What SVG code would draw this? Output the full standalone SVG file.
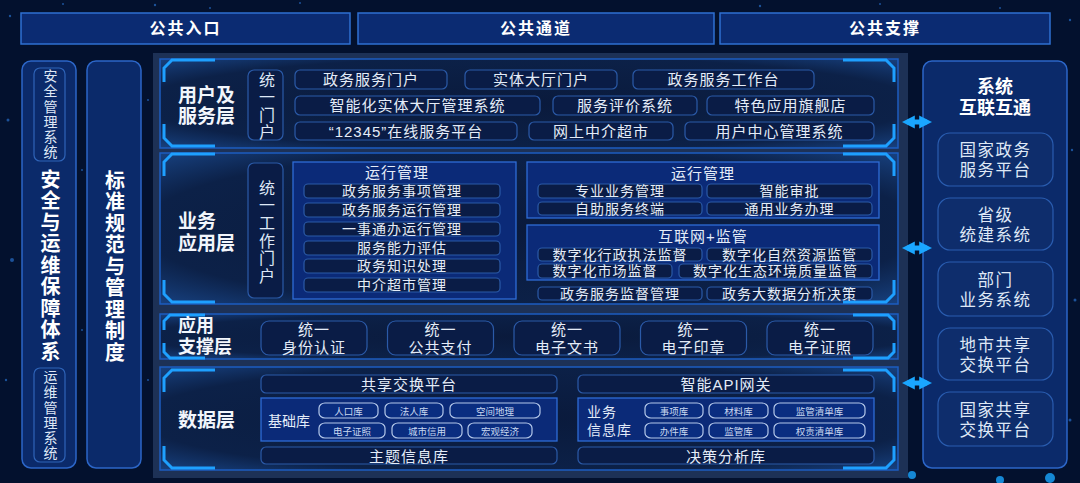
<svg xmlns="http://www.w3.org/2000/svg" width="1080" height="483" viewBox="0 0 1080 483">
<defs>
<style>
text{font-family:"Liberation Sans","Noto Sans CJK SC",sans-serif;fill:#e4ecf8;dominant-baseline:central;text-anchor:middle}
.hd{font-size:16px;font-weight:bold;fill:#ffffff;letter-spacing:2px}
.lay{font-size:19px;font-weight:bold;text-anchor:start;fill:#f2f6fc}
.it{font-size:15px;letter-spacing:1px}
.sm{font-size:14px;letter-spacing:1px}
.cy{font-size:9.5px;fill:#c9d8f0}
.vt{font-size:16px;fill:#dfe8f6;writing-mode:vertical-rl;letter-spacing:1.4px}
.rt{font-size:16.5px;fill:#dfe8f6;letter-spacing:1.5px}
.vs{font-size:14px;fill:#dfe8f6;writing-mode:vertical-rl;letter-spacing:1.2px}
.big{font-size:20px;font-weight:bold;fill:#ffffff;writing-mode:vertical-rl;letter-spacing:1.5px}
.bh{font-size:18px;font-weight:bold;fill:#ffffff}
.top{fill:#0b2b72;stroke:#2f70d2;stroke-width:1.5}
.col{fill:#0b2a6a;stroke:#2c66c8;stroke-width:1.5}
.inner{fill:none;stroke:#2f64b8;stroke-width:1.2}
.panel{fill:url(#pg);stroke:#1c5cc0;stroke-width:1.5}
.br{fill:none;stroke:#1ea0ff;stroke-width:3;stroke-linejoin:miter}
.box{fill:#0a1c46;stroke:#2b5aa8;stroke-width:1.2}
.mbox{fill:#0b2a78;stroke:#2e6cd6;stroke-width:1.3}
.cyl{fill:#0a2d80;stroke:#b4c8ea;stroke-width:1.2}
.rb{fill:#0e2d6c;stroke:#2a5db0;stroke-width:1.2}
.arr{stroke:#1aa6ff;stroke-width:5;fill:none}
</style>
<radialGradient id="pg" cx="0.5" cy="0.5" r="0.7">
<stop offset="0" stop-color="#0a1a3c"/>
<stop offset="0.75" stop-color="#0c2148"/>
<stop offset="1" stop-color="#17407e"/>
</radialGradient>
<marker id="ah" viewBox="0 0 10 10" refX="6" refY="5" markerWidth="2.6" markerHeight="2.8" orient="auto-start-reverse" markerUnits="strokeWidth">
<path d="M0,0 L10,5 L0,10 Z" fill="#1aa6ff"/>
</marker>
</defs>

<rect width="1080" height="483" fill="#03112e"/>
<g fill="#2e7de0" opacity="0.6">
<circle cx="10" cy="16" r="1.2"/><circle cx="63" cy="4" r="1"/><circle cx="155" cy="5" r="1.2"/><circle cx="210" cy="8" r="1"/><circle cx="300" cy="3" r="1"/><circle cx="760" cy="6" r="1.2"/><circle cx="880" cy="4" r="1"/><circle cx="1000" cy="8" r="1"/><circle cx="1070" cy="20" r="1.2"/><circle cx="8" cy="120" r="1.5"/><circle cx="12" cy="260" r="2"/><circle cx="6" cy="380" r="1.2"/><circle cx="1072" cy="150" r="1.2"/><circle cx="1075" cy="300" r="1.5"/><circle cx="1070" cy="420" r="1.5"/><circle cx="82" cy="170" r="1"/><circle cx="82" cy="330" r="1"/><circle cx="148" cy="100" r="1"/><circle cx="148" cy="380" r="1"/>
</g>
<g fill="#1aa6ff" opacity="0.8"><circle cx="912" cy="475" r="4"/><circle cx="1000" cy="480" r="4"/><circle cx="1050" cy="478" r="5"/></g>

<!-- top bars -->
<g id="pub-entry"><rect class="top" x="21" y="13" width="329" height="31"/><text class="hd" x="185.5" y="28.5">公共入口</text></g>
<g id="pub-channel"><rect class="top" x="358" y="13" width="356" height="31"/><text class="hd" x="536" y="28.5">公共通道</text></g>
<g id="pub-support"><rect class="top" x="720" y="13" width="330" height="31"/><text class="hd" x="885" y="28.5">公共支撑</text></g>

<!-- left columns -->
<g id="security">
<rect class="col" x="22" y="61" width="54" height="407" rx="9"/>
<rect class="inner" x="34" y="68" width="31" height="93" rx="6"/>
<text class="vs" x="49.5" y="114.5">安全管理系统</text>
<text class="big" x="49" y="266">安全与运维保障体系</text>
<rect class="inner" x="34" y="368" width="31" height="94" rx="6"/>
<text class="vs" x="49.5" y="415.5">运维管理系统</text>
</g>
<g id="standards">
<rect class="col" x="87" y="61" width="54" height="407" rx="9"/>
<text class="big" x="113.5" y="267">标准规范与管理制度</text>
</g>

<!-- main area -->
<rect x="153" y="53" width="755" height="425" fill="#1d3156"/>

<!-- layer 1 -->
<g id="layer-user">
<rect class="panel" x="160" y="59" width="738" height="89"/>
<path class="br" d="M164,82 L164,68 L172,60 L215,60"/><path class="br" d="M164,124 L164,138 L172,146 L215,146"/>
<path class="br" d="M894,82 L894,68 L886,60 L843,60"/><path class="br" d="M894,124 L894,138 L886,146 L843,146"/>
<text class="lay" x="178" y="95">用户及</text><text class="lay" x="178" y="116">服务层</text>
<rect class="box" x="248" y="70" width="35" height="70" rx="6"/>
<text class="vt" x="265.5" y="106.5">统一门户</text>
<rect class="box" x="295" y="70" width="152" height="19" rx="5"/><text class="it" x="371" y="79.5">政务服务门户</text>
<rect class="box" x="465" y="70" width="152" height="19" rx="5"/><text class="it" x="541" y="79.5">实体大厅门户</text>
<rect class="box" x="633" y="70" width="181" height="19" rx="5"/><text class="it" x="723.5" y="79.5">政务服务工作台</text>
<rect class="box" x="295" y="96" width="245" height="19" rx="5"/><text class="it" x="417.5" y="105.5">智能化实体大厅管理系统</text>
<rect class="box" x="553" y="96" width="144" height="19" rx="5"/><text class="it" x="625" y="105.5">服务评价系统</text>
<rect class="box" x="707" y="96" width="167" height="19" rx="5"/><text class="it" x="790.5" y="105.5">特色应用旗舰店</text>
<rect class="box" x="295" y="122" width="222" height="18" rx="5"/><text class="it" x="406" y="131">“12345”在线服务平台</text>
<rect class="box" x="529" y="122" width="144" height="18" rx="5"/><text class="it" x="601" y="131">网上中介超市</text>
<rect class="box" x="685" y="122" width="189" height="18" rx="5"/><text class="it" x="779.5" y="131">用户中心管理系统</text>
</g>

<!-- layer 2 -->
<g id="layer-biz">
<rect class="panel" x="160" y="153" width="738" height="151"/>
<path class="br" d="M164,176 L164,162 L172,154 L215,154"/><path class="br" d="M164,280 L164,294 L172,302 L215,302"/>
<path class="br" d="M894,176 L894,162 L886,154 L843,154"/><path class="br" d="M894,280 L894,294 L886,302 L843,302"/>
<text class="lay" x="178" y="221">业务</text><text class="lay" x="178" y="243">应用层</text>
<rect class="box" x="248" y="163" width="35" height="135" rx="6"/>
<text class="vt" x="265.5" y="232.5" style="letter-spacing:1.6px">统一工作门户</text>
<rect class="mbox" x="293" y="162" width="223" height="137"/>
<text class="it" x="397" y="172">运行管理</text>
<rect class="box" x="304" y="184" width="196" height="14" rx="4" fill="none"/><text class="sm" x="402" y="191">政务服务事项管理</text>
<rect class="box" x="304" y="203" width="196" height="14" rx="4" fill="none"/><text class="sm" x="402" y="210">政务服务运行管理</text>
<rect class="box" x="304" y="222" width="196" height="14" rx="4" fill="none"/><text class="sm" x="402" y="229">一事通办运行管理</text>
<rect class="box" x="304" y="241" width="196" height="14" rx="4" fill="none"/><text class="sm" x="402" y="248">服务能力评估</text>
<rect class="box" x="304" y="259" width="196" height="14" rx="4" fill="none"/><text class="sm" x="402" y="266">政务知识处理</text>
<rect class="box" x="304" y="278" width="196" height="14" rx="4" fill="none"/><text class="sm" x="402" y="285">中介超市管理</text>
<rect class="mbox" x="527" y="162" width="352" height="56"/>
<text class="it" x="703" y="173">运行管理</text>
<rect class="box" x="538" y="184" width="164" height="14" rx="4"/><text class="sm" x="620" y="191">专业业务管理</text>
<rect class="box" x="707" y="184" width="165" height="14" rx="4"/><text class="sm" x="789.5" y="191">智能审批</text>
<rect class="box" x="538" y="202" width="164" height="13" rx="4"/><text class="sm" x="620" y="208.5">自助服务终端</text>
<rect class="box" x="707" y="202" width="165" height="13" rx="4"/><text class="sm" x="789.5" y="208.5">通用业务办理</text>
<rect class="mbox" x="527" y="225" width="352" height="55"/>
<text class="it" x="703" y="236">互联网+监管</text>
<rect class="box" x="538" y="248" width="164" height="13" rx="4"/><text class="sm" x="620" y="254.5">数字化行政执法监督</text>
<rect class="box" x="707" y="248" width="165" height="13" rx="4"/><text class="sm" x="789.5" y="254.5">数字化自然资源监管</text>
<rect class="box" x="538" y="264" width="134" height="14" rx="4"/><text class="sm" x="605" y="271">数字化市场监督</text>
<rect class="box" x="679" y="264" width="193" height="14" rx="4"/><text class="sm" x="775.5" y="271">数字化生态环境质量监管</text>
<rect class="box" x="538" y="287" width="164" height="13" rx="4"/><text class="sm" x="620" y="293.5">政务服务监督管理</text>
<rect class="box" x="707" y="287" width="165" height="13" rx="4"/><text class="sm" x="789.5" y="293.5">政务大数据分析决策</text>
</g>

<!-- layer 3 -->
<g id="layer-support">
<rect class="panel" x="160" y="314" width="738" height="45"/>
<path class="br" d="M164,330 L164,321 L170,315 L205,315"/><path class="br" d="M164,343 L164,352 L170,358 L205,358"/>
<path class="br" d="M894,330 L894,321 L888,315 L853,315"/><path class="br" d="M894,343 L894,352 L888,358 L853,358"/>
<text class="lay" x="178" y="326" style="font-size:18px">应用</text><text class="lay" x="178" y="347" style="font-size:18px">支撑层</text>
<rect class="box" x="261" y="321" width="106" height="34" rx="8"/><text class="it" x="314" y="329.5">统一</text><text class="it" x="314" y="347">身份认证</text>
<rect class="box" x="387.5" y="321" width="106" height="34" rx="8"/><text class="it" x="440.5" y="329.5">统一</text><text class="it" x="440.5" y="347">公共支付</text>
<rect class="box" x="514" y="321" width="106" height="34" rx="8"/><text class="it" x="567" y="329.5">统一</text><text class="it" x="567" y="347">电子文书</text>
<rect class="box" x="640.5" y="321" width="106" height="34" rx="8"/><text class="it" x="693.5" y="329.5">统一</text><text class="it" x="693.5" y="347">电子印章</text>
<rect class="box" x="767" y="321" width="106" height="34" rx="8"/><text class="it" x="820" y="329.5">统一</text><text class="it" x="820" y="347">电子证照</text>
</g>

<!-- layer 4 -->
<g id="layer-data">
<rect class="panel" x="160" y="367" width="738" height="103"/>
<path class="br" d="M164,392 L164,378 L172,370 L215,370"/><path class="br" d="M164,446 L164,460 L172,468 L215,468"/>
<path class="br" d="M894,392 L894,378 L886,370 L843,370"/><path class="br" d="M894,446 L894,460 L886,468 L843,468"/>
<text class="lay" x="178" y="420">数据层</text>
<rect class="box" x="261" y="375" width="296" height="18" rx="5"/><text class="it" x="409" y="384">共享交换平台</text>
<rect class="mbox" x="261" y="398" width="296" height="43"/>
<text class="sm" x="289" y="421" style="letter-spacing:0">基础库</text>
<rect class="box" x="261" y="447" width="296" height="17" rx="5"/><text class="it" x="409" y="456">主题信息库</text>
<rect class="box" x="578" y="375" width="296" height="18" rx="5"/><text class="it" x="726" y="384">智能API网关</text>
<rect class="mbox" x="578" y="398" width="296" height="43"/>
<text class="sm" x="587" y="412" style="text-anchor:start">业务</text><text class="sm" x="587" y="430" style="text-anchor:start">信息库</text>
<rect class="box" x="578" y="447" width="296" height="17" rx="5"/><text class="it" x="726" y="456">决策分析库</text>
<g>
<rect class="cyl" x="319" y="403" width="59" height="15" rx="6" ry="5"/><text class="cy" x="348.5" y="411">人口库</text>
<rect class="cyl" x="385" y="403" width="58" height="15" rx="6" ry="5"/><text class="cy" x="414" y="411">法人库</text>
<rect class="cyl" x="450" y="403" width="90" height="15" rx="6" ry="5"/><text class="cy" x="495" y="411">空间地理</text>
<rect class="cyl" x="319" y="423" width="66" height="15" rx="6" ry="5"/><text class="cy" x="352" y="431">电子证照</text>
<rect class="cyl" x="392" y="423" width="70" height="15" rx="6" ry="5"/><text class="cy" x="427" y="431">城市信用</text>
<rect class="cyl" x="468" y="423" width="64" height="15" rx="6" ry="5"/><text class="cy" x="500" y="431">宏观经济</text>
<rect class="cyl" x="645" y="403" width="58" height="15" rx="6" ry="5"/><text class="cy" x="674" y="411">事项库</text>
<rect class="cyl" x="709" y="403" width="59" height="15" rx="6" ry="5"/><text class="cy" x="738.5" y="411">材料库</text>
<rect class="cyl" x="774" y="403" width="91" height="15" rx="6" ry="5"/><text class="cy" x="819.5" y="411">监管清单库</text>
<rect class="cyl" x="645" y="423" width="58" height="15" rx="6" ry="5"/><text class="cy" x="674" y="431">办件库</text>
<rect class="cyl" x="709" y="423" width="59" height="15" rx="6" ry="5"/><text class="cy" x="738.5" y="431">监管库</text>
<rect class="cyl" x="774" y="423" width="91" height="15" rx="6" ry="5"/><text class="cy" x="819.5" y="431">权责清单库</text>
</g>
</g>

<!-- right column -->
<g id="interconnect">
<rect class="col" x="923" y="61" width="144" height="407" rx="9"/>
<text class="bh" x="995" y="87">系统</text><text class="bh" x="995" y="108">互联互通</text>
<rect class="rb" x="938" y="133" width="115" height="53" rx="12"/><text class="rt" x="995.5" y="150">国家政务</text><text class="rt" x="995.5" y="170">服务平台</text>
<rect class="rb" x="938" y="198" width="115" height="52" rx="12"/><text class="rt" x="995.5" y="215">省级</text><text class="rt" x="995.5" y="235">统建系统</text>
<rect class="rb" x="938" y="262" width="115" height="54" rx="12"/><text class="rt" x="995.5" y="280">部门</text><text class="rt" x="995.5" y="300">业务系统</text>
<rect class="rb" x="938" y="328" width="115" height="52" rx="12"/><text class="rt" x="995.5" y="345">地市共享</text><text class="rt" x="995.5" y="365">交换平台</text>
<rect class="rb" x="938" y="392" width="115" height="54" rx="12"/><text class="rt" x="995.5" y="410">国家共享</text><text class="rt" x="995.5" y="430">交换平台</text>
</g>

<!-- connectors -->
<g id="connectors">
<line class="arr" x1="907" y1="122" x2="927" y2="122" marker-start="url(#ah)" marker-end="url(#ah)"/>
<line class="arr" x1="907" y1="248" x2="927" y2="248" marker-start="url(#ah)" marker-end="url(#ah)"/>
<line class="arr" x1="907" y1="383" x2="927" y2="383" marker-start="url(#ah)" marker-end="url(#ah)"/>
</g>
</svg>
